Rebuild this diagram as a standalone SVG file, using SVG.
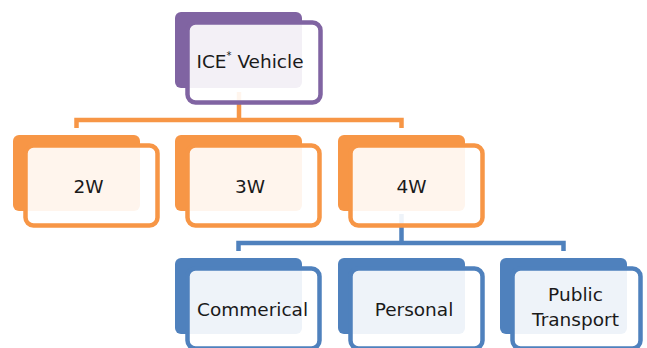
<svg xmlns="http://www.w3.org/2000/svg" width="647" height="348" viewBox="0 0 647 348">
  <style>
    .back { stroke: none; }
    .front { fill: #ffffff; fill-opacity: 0.9; stroke-width: 4.5; }
    .purple .back { fill: #8064a2; }
    .purple .front { stroke: #8064a2; }
    .orange .back { fill: #f79646; }
    .orange .front { stroke: #f79646; }
    .blue .back { fill: #4f81bd; }
    .blue .front { stroke: #4f81bd; }
    .link { fill: none; stroke-width: 4.5; stroke-linejoin: miter; }
    .link-orange { stroke: #f79646; }
    .link-blue { stroke: #4f81bd; }
    text { font-family: "DejaVu Sans", "Liberation Sans", sans-serif; font-size: 18.5px; fill: #1a1a1a; text-anchor: middle; }
  </style>
  <rect width="647" height="348" fill="#ffffff"/>

  <!-- connectors -->
  <g id="connectors">
    <path class="link link-orange" d="M239 92 V120 M76.5 128 V120 H401.5 V128"/>
    <path class="link link-blue" d="M401.5 214 V243 M238.5 251 V243 H563.5 V251"/>
  </g>

  <!-- root -->
  <g id="node-ice" class="purple">
    <rect class="back" x="175" y="12" width="127" height="76" rx="6"/>
    <rect class="front" x="187.5" y="22.5" width="133" height="80" rx="8"/>
    <text x="250" y="68">ICE<tspan font-size="10" dy="-9">*</tspan><tspan dy="9"> Vehicle</tspan></text>
  </g>

  <!-- vehicle classes -->
  <g id="node-2w" class="orange">
    <rect class="back" x="13" y="135" width="127" height="76" rx="6"/>
    <rect class="front" x="25.5" y="145.5" width="132" height="80" rx="8"/>
    <text x="88.5" y="193">2W</text>
  </g>
  <g id="node-3w" class="orange">
    <rect class="back" x="175" y="135" width="127" height="76" rx="6"/>
    <rect class="front" x="187.5" y="145.5" width="132" height="80" rx="8"/>
    <text x="250" y="193">3W</text>
  </g>
  <g id="node-4w" class="orange">
    <rect class="back" x="338" y="135" width="127" height="76" rx="6"/>
    <rect class="front" x="350.5" y="145.5" width="132" height="80" rx="8"/>
    <text x="411.5" y="193">4W</text>
  </g>

  <!-- four-wheeler segments -->
  <g id="node-commercial" class="blue">
    <rect class="back" x="175" y="258" width="127" height="76" rx="6"/>
    <rect class="front" x="187.5" y="268.5" width="132" height="80" rx="8"/>
    <text x="252.5" y="316">Commerical</text>
  </g>
  <g id="node-personal" class="blue">
    <rect class="back" x="338" y="258" width="127" height="76" rx="6"/>
    <rect class="front" x="350.5" y="268.5" width="132" height="80" rx="8"/>
    <text x="414" y="316">Personal</text>
  </g>
  <g id="node-public" class="blue">
    <rect class="back" x="500" y="258" width="127" height="76" rx="6"/>
    <rect class="front" x="512.5" y="268.5" width="128" height="80" rx="8"/>
    <text x="575.5" y="301">Public</text>
    <text x="575.5" y="326">Transport</text>
  </g>
</svg>
